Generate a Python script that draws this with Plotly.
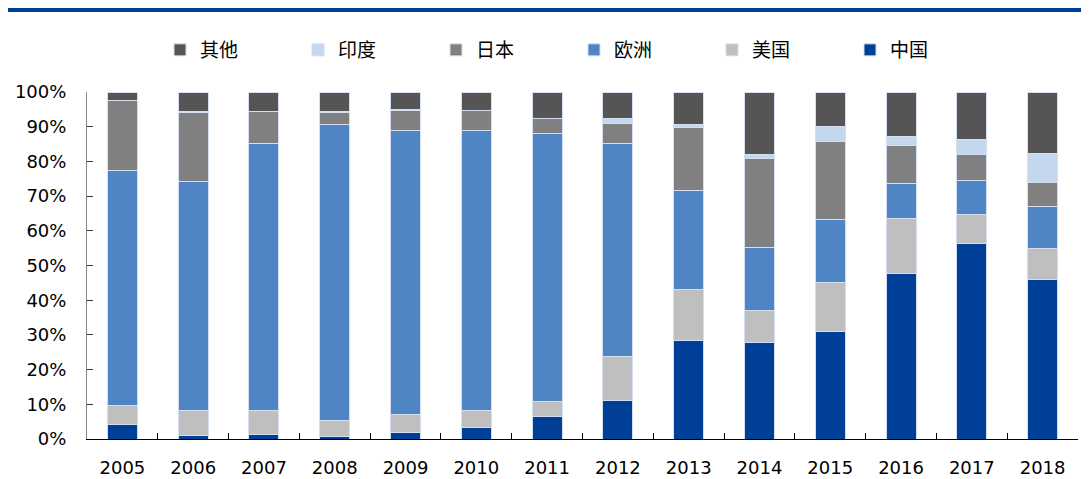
import plotly.graph_objects as go

years = ["2005", "2006", "2007", "2008", "2009", "2010", "2011",
         "2012", "2013", "2014", "2015", "2016", "2017", "2018"]

china  = [4.1, 1.1, 1.4, 0.7, 1.8, 3.4, 6.4, 11.2, 28.4, 27.8, 31.0, 47.6, 56.2, 46.0]
usa    = [5.5, 7.1, 6.9, 4.5, 5.3, 4.9, 4.3, 12.6, 14.8, 9.1, 14.2, 15.9, 8.5, 8.8]
europe = [67.9, 66.1, 77.0, 85.4, 81.8, 80.6, 77.4, 61.4, 28.4, 18.4, 18.1, 10.0, 9.7, 12.2]
japan  = [20.1, 19.7, 9.1, 3.6, 5.8, 5.8, 4.2, 5.6, 18.1, 25.6, 22.4, 11.1, 7.5, 6.8]
india  = [0.0, 0.3, 0.1, 0.3, 0.2, 0.1, 0.1, 1.5, 1.0, 1.1, 4.5, 2.6, 4.5, 8.5]
other  = [2.4, 5.7, 5.5, 5.5, 5.1, 5.2, 7.6, 7.7, 9.3, 18.0, 9.8, 12.8, 13.6, 17.7]

series = [
    ("中国", china, "#003F98"),
    ("美国", usa, "#BFBFBF"),
    ("欧洲", europe, "#4F85C5"),
    ("日本", japan, "#808080"),
    ("印度", india, "#C5D7EE"),
    ("其他", other, "#555555"),
]

fig = go.Figure()
for name, vals, color in series:
    fig.add_trace(go.Bar(
        x=years, y=[v / 100 for v in vals], name=name,
        marker=dict(color=color, line=dict(color="#D3DEEF", width=1)),
    ))

# the page places the figure 8px from the top-left corner
W, H = 1081, 471
ml, mr, mt, mb = 79, 11, 84, 40
pw, ph = W - ml - mr, H - mt - mb

fig.update_layout(
    width=W, height=H,
    margin=dict(l=ml, r=mr, t=mt, b=mb, autoexpand=False),
    barmode="stack",
    bargap=0.576,
    plot_bgcolor="white", paper_bgcolor="white",
    font=dict(family="DejaVu Sans", size=18, color="#000000"),
    legend=dict(
        orientation="h", traceorder="reversed",
        x=(152 - ml) / pw, xanchor="left",
        y=1 + (mt - 42) / ph, yanchor="middle",
        font=dict(family="Noto Sans CJK SC", size=19, color="#000000"),
        entrywidth=93, entrywidthmode="pixels",
        itemwidth=30,
        bgcolor="rgba(0,0,0,0)",
    ),
    xaxis=dict(
        showline=True, linecolor="#000000", linewidth=1,
        ticks="inside", tickson="boundaries", ticklen=6, tickcolor="#000000",
        tickfont=dict(family="DejaVu Sans", size=18),
        ticklabelstandoff=12,
        range=[-0.5, 13.5],
    ),
    yaxis=dict(
        range=[0, 1], tickvals=[i / 10 for i in range(11)],
        ticktext=[f"{i*10}%" for i in range(11)],
        showline=True, linecolor="#888888", linewidth=1,
        ticks="inside", ticklen=6, tickcolor="#333333",
        showgrid=False, zeroline=False,
        ticklabelstandoff=16,
        tickfont=dict(family="DejaVu Sans", size=18),
    ),
    shapes=[dict(
        type="rect", xref="paper", yref="paper",
        x0=-ml / pw, x1=(W - ml) / pw,
        y0=1 + (mt - 4) / ph, y1=1 + mt / ph,
        fillcolor="#003F98", line=dict(width=0),
    )],
)

fig.write_html("out.html")
